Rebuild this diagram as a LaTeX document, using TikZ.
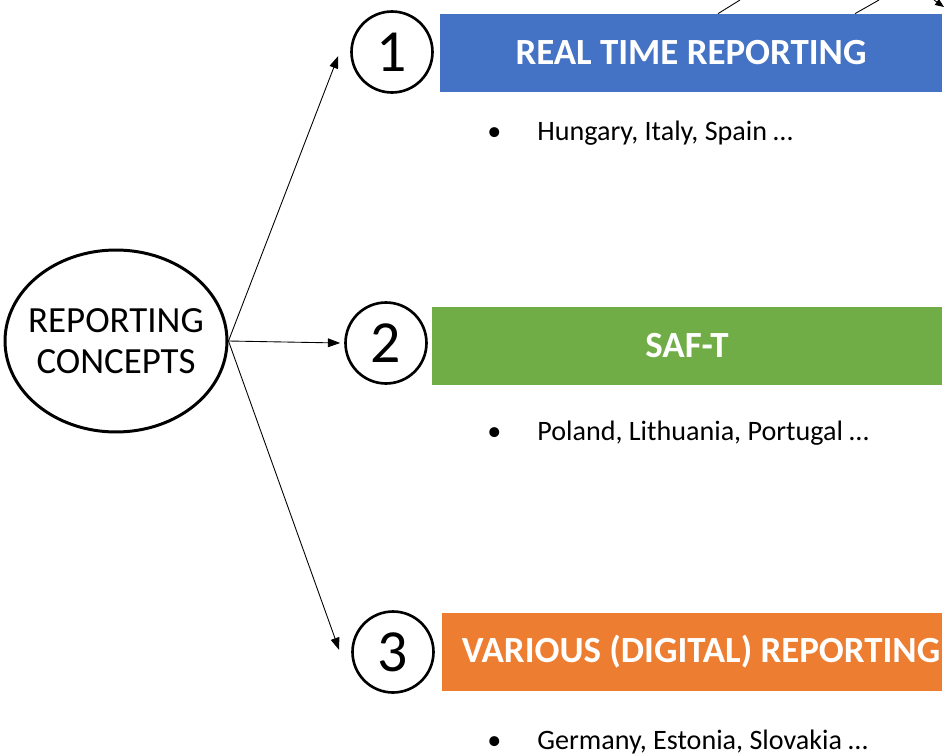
\documentclass[tikz,border=0pt]{standalone}
\usepackage{fontspec}
\setmainfont{Carlito}
\usetikzlibrary{positioning, calc, arrows.meta, shapes.geometric}
\definecolor{rtblue}{HTML}{4472C4}
\definecolor{saftgreen}{HTML}{70AD47}
\definecolor{varorange}{HTML}{ED7D31}
\tikzset{
	num/.style={circle, draw, line width=1.5pt, minimum size=1.62cm, inner sep=0pt, font=\fontsize{34}{34}\selectfont},
	bar/.style={rectangle, minimum height=1.56cm, inner sep=0pt, text=white, font=\fontsize{21}{21}\selectfont\bfseries},
	item/.style={anchor=west, inner sep=0pt, font=\fontsize{16}{16}\selectfont},
	link/.style={-{Triangle[length=7pt, width=5pt]}, line width=0.5pt}
}

\begin{document}
\begin{tikzpicture}[x=0.02cm, y=-0.02cm]
\useasboundingbox (0,0) rectangle (948,754);
\node[ellipse, draw, line width=1.7pt, minimum width=4.44cm, minimum height=3.64cm, inner sep=0pt] (rc) at (116,341) {};
\node[align=center, font=\fontsize{21}{23}\selectfont] (rct) at (rc.center) {REPORTING\\CONCEPTS};
\foreach \m/\y/\x/\w/\c/\s/\t in {1/53/691/10.04/rtblue/0/REAL TIME REPORTING, 2/346/687/10.2/saftgreen/0/SAF-T, 3/652/692/10/varorange/0.36/VARIOUS (DIGITAL) REPORTING}
	\node[bar, fill=\c, minimum width=\w cm] (b\m) at (\x, \y) {\hspace*{\s cm}\t};
\node[num] (n1) at (392,52) {1};
\node[num] (n2) at (386,343) {2};
\node[num] (n3) at (393,652) {3};
\foreach \m/\y/\t in {1/133/{Hungary, Italy, Spain …}, 2/433/{Poland, Lithuania, Portugal …}, 3/742/{Germany, Estonia, Slovakia …}}
	\node[item] (l\m) at (487, \y) {\makebox[1cm][l]{\textbullet}\t};
\draw[link] (rc.east) -- ($(n1.west)+(-12,4)$);
\draw[link] (rc.east) -- ($(n2.west)+(-4,0)$);
\draw[link] (rc.east) -- ($(n3.west)+(-12,-2)$);
% pieces of the arrows cut at the top edge
\draw[line width=0.5pt] (b1.north -| 718,0) -- (740,0);
\draw[line width=0.5pt] (b1.north -| 855,0) -- (879,0);
\draw[line width=0.5pt, -{Triangle[length=5pt, width=4pt]}] (934,0) -- (944,7);
\end{tikzpicture}
\end{document}
